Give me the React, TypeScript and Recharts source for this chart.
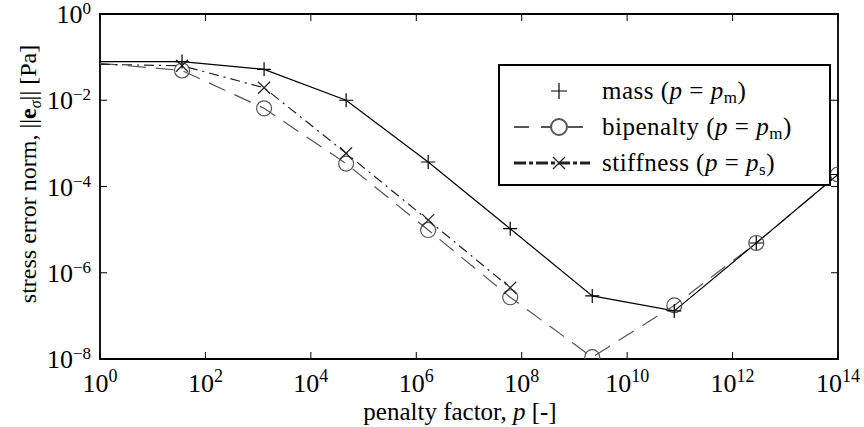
import React from 'react';
import {
  LineChart,
  Line,
  XAxis,
  YAxis,
  Legend,
  ReferenceArea,
} from 'recharts';

// penalty factor p (x) and stress error norm per formulation (y)
const penaltyFactor = [1, 36, 1296, 46656, 1.68e6, 6.05e7, 2.18e9, 7.84e10, 2.82e12, 1e14];
const massErr = [7.9e-2, 7.9e-2, 5.2e-2, 1.0e-2, 3.7e-4, 1.05e-5, 2.9e-7, 1.3e-7, 4.9e-6, 1.9e-4];
const bipenaltyErr = [7.2e-2, 4.9e-2, 6.5e-3, 3.4e-4, 9.8e-6, 2.7e-7, 1.1e-8, 1.75e-7, 4.9e-6, 1.9e-4];
const stiffnessErr = [6.8e-2, 6.3e-2, 1.95e-2, 5.9e-4, 1.66e-5, 4.5e-7, null, null, null, null];

const xTicks = [1, 1e2, 1e4, 1e6, 1e8, 1e10, 1e12, 1e14];
const yTicks = [1e-8, 1e-6, 1e-4, 1e-2, 1];

const FONT = "'Liberation Serif', 'Times New Roman', serif";
const PLOT_W = 738;
const PLOT_H = 345;

const data = penaltyFactor.map((p, i) => ({
  p,
  mass: massErr[i],
  bipenalty: bipenaltyErr[i],
  stiffness: stiffnessErr[i],
}));

const expLabel = (v: number) => {
  const e = Math.round(Math.log10(v));
  return e < 0 ? `\u2212${-e}` : `${e}`;
};

function XTick({ x, y, payload }: any) {
  return (
    <g>
      <line x1={x} x2={x} y1={y} y2={y - 7} stroke="#000" />
      <line x1={x} x2={x} y1={y - PLOT_H} y2={y - PLOT_H + 7} stroke="#000" />
      <text x={x} y={y + 33} textAnchor="middle" fontFamily={FONT} fontSize={26} fill="#000">
        <tspan>10</tspan>
        <tspan dy={-10} fontSize={18}>{expLabel(payload.value)}</tspan>
      </text>
    </g>
  );
}

function YTick({ x, y, payload }: any) {
  return (
    <g>
      <line x1={x} x2={x + 7} y1={y} y2={y} stroke="#000" />
      <line x1={x + PLOT_W} x2={x + PLOT_W - 7} y1={y} y2={y} stroke="#000" />
      <text x={x - 9} y={y + 9} textAnchor="end" fontFamily={FONT} fontSize={26} fill="#000">
        <tspan>10</tspan>
        <tspan dy={-9} fontSize={17}>{expLabel(payload.value)}</tspan>
      </text>
    </g>
  );
}

function XLabel({ viewBox }: any) {
  const cx = viewBox.x + viewBox.width / 2 - 9;
  return (
    <text x={cx} y={viewBox.y + 61} textAnchor="middle" fontFamily={FONT} fontSize={25} fill="#000">
      penalty factor, <tspan fontStyle="italic">p</tspan> [-]
    </text>
  );
}

function YLabel() {
  return (
    <text
      transform="translate(36, 174) rotate(-90)"
      textAnchor="middle"
      fontFamily={FONT}
      fontSize={24}
      fill="#000"
    >
      stress error norm, ||<tspan fontWeight="bold">e</tspan>
      <tspan dy={5} fontSize={16} fontStyle="italic">σ</tspan>
      <tspan dy={-5}>|| [Pa]</tspan>
    </text>
  );
}

const PlusDot = (props: any) => {
  const { cx, cy, value, index } = props;
  if (value == null || cy == null || index === 0) return <g key={`pm-${index}`} />;
  return (
    <path
      key={`pm-${index}`}
      d={`M${cx - 7},${cy}H${cx + 7}M${cx},${cy - 7}V${cy + 7}`}
      stroke="#000"
      strokeWidth={1.2}
      fill="none"
    />
  );
};

const CircleDot = (props: any) => {
  const { cx, cy, value, index } = props;
  if (value == null || cy == null || index === 0) return <g key={`pb-${index}`} />;
  return <circle key={`pb-${index}`} cx={cx} cy={cy} r={7.5} stroke="#555" strokeWidth={1.2} fill="none" />;
};

const CrossDot = (props: any) => {
  const { cx, cy, value, index } = props;
  if (value == null || cy == null || index === 0) return <g key={`ps-${index}`} />;
  return (
    <path
      key={`ps-${index}`}
      d={`M${cx - 6},${cy - 6}L${cx + 6},${cy + 6}M${cx - 6},${cy + 6}L${cx + 6},${cy - 6}`}
      stroke="#222"
      strokeWidth={1.2}
      fill="none"
    />
  );
};

function LegendBox() {
  const row: React.CSSProperties = { display: 'flex', alignItems: 'center', height: 36 };
  const txt: React.CSSProperties = {
    marginLeft: 10,
    fontFamily: FONT,
    fontSize: 25,
    letterSpacing: 0.5,
    whiteSpace: 'nowrap',
    lineHeight: '36px',
  };
  const sub: React.CSSProperties = { fontSize: 17, verticalAlign: '-4px', lineHeight: 0 };
  return (
    <div
      style={{
        boxSizing: 'border-box',
        width: 333,
        height: 122,
        border: '2px solid #000',
        background: '#fff',
        paddingTop: 7,
        paddingLeft: 12,
      }}
    >
      <div style={row}>
        <svg width={80} height={24}>
          <path d="M47,4V20M39,12H55" stroke="#000" strokeWidth={1.2} />
        </svg>
        <span style={txt}>
          mass (<i>p</i> = <i>p</i><span style={sub}>m</span>)
        </span>
      </div>
      <div style={row}>
        <svg width={80} height={24}>
          <line x1={2} x2={78} y1={12} y2={12} stroke="#555" strokeWidth={2} strokeDasharray="15 12" />
          <line x1={38} x2={78} y1={12} y2={12} stroke="#555" strokeWidth={2} strokeDasharray="0 1 9 30" />
          <circle cx={47} cy={12} r={8} stroke="#555" strokeWidth={2} fill="#fff" />
        </svg>
        <span style={txt}>
          bipenalty (<i>p</i> = <i>p</i><span style={sub}>m</span>)
        </span>
      </div>
      <div style={row}>
        <svg width={80} height={24}>
          <line x1={2} x2={78} y1={12} y2={12} stroke="#222" strokeWidth={3} strokeDasharray="12 3 4 3" />
          <path d="M41,6L53,18M41,18L53,6" stroke="#222" strokeWidth={1.3} />
        </svg>
        <span style={txt}>
          stiffness (<i>p</i> = <i>p</i><span style={sub}>s</span>)
        </span>
      </div>
    </div>
  );
}

export default function App() {
  return (
    <div style={{ position: 'absolute', left: 0, top: 0, width: 864, height: 427, background: '#fff' }}>
      <LineChart width={864} height={427} data={data} margin={{ top: 14, right: 26, bottom: 0, left: 0 }}>
        <XAxis
          dataKey="p"
          type="number"
          scale="log"
          domain={[1, 1e14]}
          ticks={xTicks}
          interval={0}
          allowDataOverflow
          axisLine={false}
          tickLine={false}
          tickSize={0}
          tickMargin={0}
          height={68}
          tick={<XTick />}
          label={<XLabel />}
        />
        <YAxis
          type="number"
          scale="log"
          domain={[1e-8, 1]}
          ticks={yTicks}
          interval={0}
          allowDataOverflow
          axisLine={false}
          tickLine={false}
          tickSize={0}
          tickMargin={0}
          width={100}
          tick={<YTick />}
          label={<YLabel />}
        />
        <ReferenceArea
          x1={1}
          x2={1e14}
          y1={1e-8}
          y2={1}
          fill="none"
          fillOpacity={0}
          stroke="#000"
          strokeWidth={1.8}
          ifOverflow="visible"
        />
        <Line
          dataKey="bipenalty"
          stroke="#555"
          strokeWidth={1.2}
          strokeDasharray="18 10"
          dot={CircleDot}
          activeDot={false}
          isAnimationActive={false}
        />
        <Line
          dataKey="stiffness"
          stroke="#222"
          strokeWidth={1.2}
          strokeDasharray="10 5 2 5"
          dot={CrossDot}
          activeDot={false}
          isAnimationActive={false}
        />
        <Line
          dataKey="mass"
          stroke="#000"
          strokeWidth={1.2}
          dot={PlusDot}
          activeDot={false}
          isAnimationActive={false}
        />
        <Legend
          layout="horizontal"
          verticalAlign="middle"
          align="center"
          wrapperStyle={{ left: 498, top: 64, width: 333, height: 122 }}
          content={<LegendBox />}
        />
      </LineChart>
    </div>
  );
}
